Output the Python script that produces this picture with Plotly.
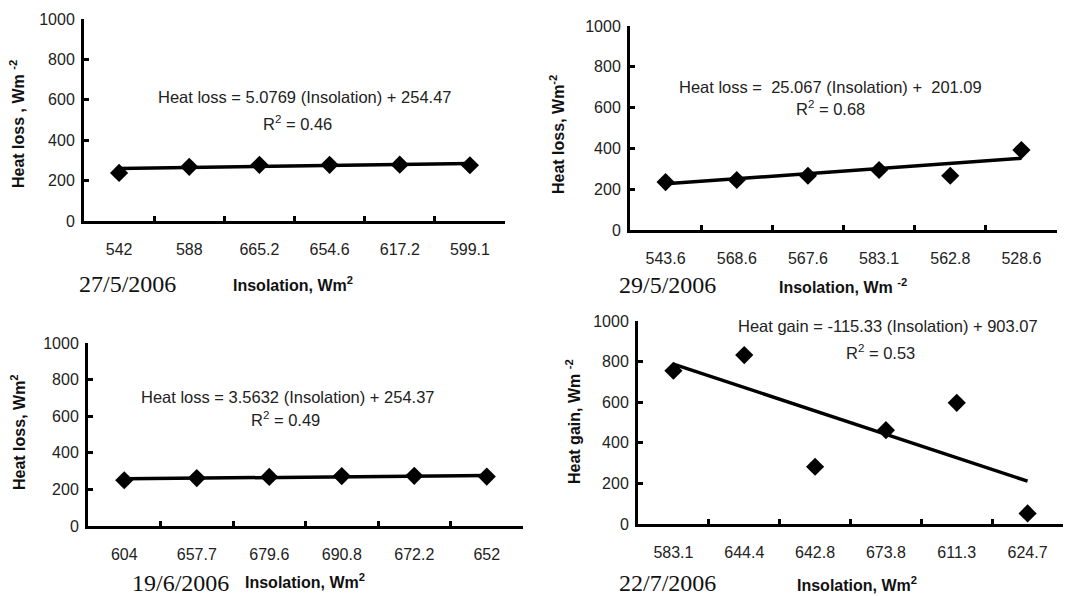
import plotly.graph_objects as go

W, H = 1087, 596

# ---- data ----
cats1 = ["542", "588", "665.2", "654.6", "617.2", "599.1"]
vals1 = [238, 268, 278, 278, 279, 276]
fit1 = (5.0769, 254.47)

cats2 = ["543.6", "568.6", "567.6", "583.1", "562.8", "528.6"]
vals2 = [235, 245, 266, 294, 266, 392]
fit2 = (25.067, 201.09)

cats3 = ["604", "657.7", "679.6", "690.8", "672.2", "652"]
vals3 = [250, 262, 268, 273, 274, 270]
fit3 = (3.5632, 254.37)

cats4 = ["583.1", "644.4", "642.8", "673.8", "611.3", "624.7"]
vals4 = [755, 832, 282, 462, 597, 52]
fit4 = (-115.33, 903.07)

yticks = [0, 200, 400, 600, 800, 1000]

dates = ["27/5/2006", "29/5/2006", "19/6/2006", "22/7/2006"]
eqs = ["Heat loss = 5.0769 (Insolation) + 254.47",
       "Heat loss =  25.067 (Insolation) +  201.09",
       "Heat loss = 3.5632 (Insolation) + 254.37",
       "Heat gain = -115.33 (Insolation) + 903.07"]
r2s = ["R<sup>2</sup> = 0.46", "R<sup>2</sup> = 0.68", "R<sup>2</sup> = 0.49", "R<sup>2</sup> = 0.53"]
ytitles = ["Heat loss , Wm <sup>-2</sup>", "Heat loss, Wm<sup>-2</sup>",
           "Heat loss, Wm<sup>2</sup>", "Heat gain, Wm <sup>-2</sup>"]
xtitles = ["Insolation, Wm<sup>2</sup>", "Insolation, Wm <sup>-2</sup>",
           "Insolation, Wm<sup>2</sup>", "Insolation, Wm<sup>2</sup>"]

# ---- layout geometry (pixels of the target picture) ----
# (x_left, x_right, y_top(1000), y_bottom(0))
boxes = [(84, 505, 19, 221), (630, 1057, 26, 230), (88, 523, 343, 526), (638, 1063, 321, 524)]
eq_pos = [((305, 97), (297, 123)), ((830, 87), (830, 108)), ((288, 397), (285, 419)), ((888, 326), (880, 352))]
date_pos = [(127, 284), (667, 285), (180, 583), (667, 583)]
xt_pos = [(293, 284), (843, 286), (305, 581), (857, 584)]
yt_pos = [(17, 124), (557, 135), (18, 432), (573, 422)]
line_w = [3.5, 3.5, 3.5, 3.5]

OFF = 8  # page body margin offset

def px(x):
    return (x - OFF) / W

def py(y):
    return 1 - (y - OFF) / H

panels = [(cats1, vals1, fit1), (cats2, vals2, fit2), (cats3, vals3, fit3), (cats4, vals4, fit4)]

fig = go.Figure()
annotations = []
SANS = "Liberation Sans, Arial, sans-serif"
SERIF = "Liberation Serif, Times New Roman, serif"

def note(x, y, text, font, angle=0):
    annotations.append(dict(x=px(x), y=py(y), xref="paper", yref="paper", text=text,
                            xanchor="center", yanchor="middle", textangle=angle,
                            showarrow=False, font=font))

for i, (cats, vals, (m, b)) in enumerate(panels):
    n = i + 1
    xa = "x" if n == 1 else f"x{n}"
    ya = "y" if n == 1 else f"y{n}"
    # trend line from first to last category
    fig.add_trace(go.Scatter(
        x=[cats[0], cats[-1]], y=[m * 1 + b, m * len(cats) + b],
        mode="lines", line=dict(color="black", width=line_w[i]),
        xaxis=xa, yaxis=ya, showlegend=False, hoverinfo="skip", cliponaxis=False))
    fig.add_trace(go.Scatter(
        x=cats, y=vals, mode="markers",
        marker=dict(symbol="diamond", size=14, color="black"),
        xaxis=xa, yaxis=ya, showlegend=False, cliponaxis=False))

    x0, x1, yt, yb = boxes[i]
    xkey = "xaxis" if n == 1 else f"xaxis{n}"
    ykey = "yaxis" if n == 1 else f"yaxis{n}"
    fig.layout[xkey] = dict(
        domain=[px(x0), px(x1)], anchor=ya, type="category",
        categoryorder="array", categoryarray=cats,
        range=[-0.5, len(cats) - 0.5], tickson="boundaries",
        ticks="inside", ticklen=5, tickwidth=3, tickcolor="black",
        showline=True, linecolor="black", linewidth=3,
        showgrid=False, zeroline=False, fixedrange=True,
        tickfont=dict(family=SANS, size=16, color="#222"),
        ticklabelstandoff=12)
    fig.layout[ykey] = dict(
        domain=[py(yb), py(yt)], anchor=xa, range=[0, 1000],
        tickvals=yticks, ticks="inside", ticklen=5, tickwidth=3, tickcolor="black",
        showline=True, linecolor="black", linewidth=3,
        showgrid=False, zeroline=False, fixedrange=True,
        tickfont=dict(family=SANS, size=16, color="#222"),
        ticklabelstandoff=3)

    (ex, ey), (rx, ry) = eq_pos[i]
    note(ex, ey, eqs[i], dict(family=SANS, size=16.5, color="#222"))
    note(rx, ry, r2s[i], dict(family=SANS, size=16.5, color="#222"))
    dx, dy = date_pos[i]
    note(dx, dy, dates[i], dict(family=SERIF, size=24, color="#111"))
    tx, ty = xt_pos[i]
    note(tx, ty, "<b>" + xtitles[i] + "</b>", dict(family=SANS, size=16, color="#111"))
    qx, qy = yt_pos[i]
    note(qx, qy, "<b>" + ytitles[i] + "</b>", dict(family=SANS, size=16, color="#111"), angle=-90)

fig.update_layout(
    width=W, height=H, margin=dict(l=0, r=0, t=0, b=0, autoexpand=False),
    paper_bgcolor="white", plot_bgcolor="white",
    annotations=annotations, showlegend=False)

fig.write_html("out.html", config={"displayModeBar": False})
